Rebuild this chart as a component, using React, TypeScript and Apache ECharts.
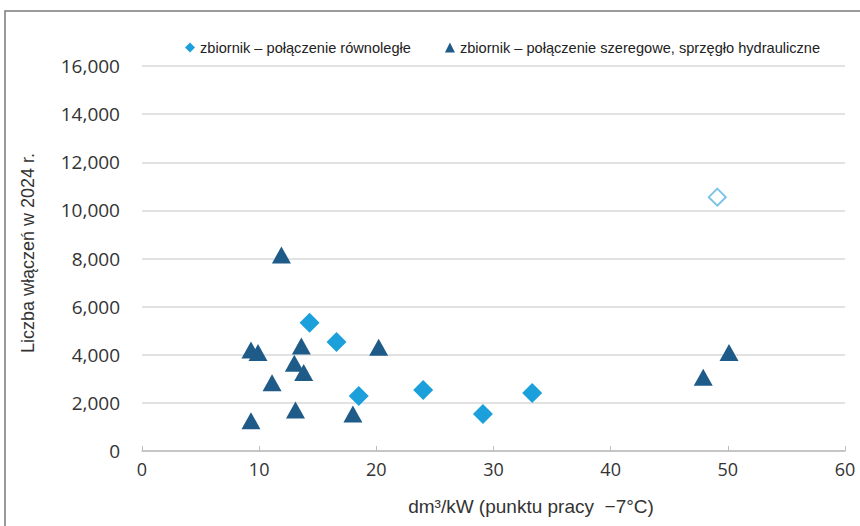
import React, { useEffect, useRef } from "react";
import * as echarts from "echarts";

const parallelX = [14.3, 16.6, 18.5, 24.0, 29.1, 33.3];
const parallelY = [5330, 4530, 2290, 2540, 1540, 2410];
const outlierX = [49.1];
const outlierY = [10550];
const seriesX = [11.9, 9.3, 9.9, 13.6, 13.0, 13.8, 11.1, 13.1, 9.3, 18.0, 20.2, 50.1, 47.9];
const seriesY = [8150, 4200, 4090, 4360, 3650, 3260, 2840, 1700, 1260, 1540, 4310, 4090, 3060];
const seriesNames = ["zbiornik – połączenie równoległe", "zbiornik – połączenie szeregowe, sprzęgło hydrauliczne"];
const xTitle = "dm³/kW (punktu pracy  −7°C)";
const yTitle = "Liczba włączeń w 2024 r.";

const LIGHT = "#1ba0db";
const DARK = "#1e5b89";
const TXTF = "'Liberation Sans', Arial, sans-serif";
const TICKF = "'Open Sans', 'Noto Sans', sans-serif";

export default function App() {
  const ref = useRef<HTMLDivElement>(null);
  useEffect(() => {
    const chart = echarts.init(ref.current!, null, { renderer: "svg" });
    const parData: any[] = parallelX.map((x, i) => [x, parallelY[i]]);
    outlierX.forEach((x, i) => {
      parData.push({
        value: [x, outlierY[i]],
        symbolSize: 17,
        itemStyle: { color: "#ffffff", borderColor: "#7cc3e8", borderWidth: 2, opacity: 1 },
      });
    });
    chart.setOption({
      animation: false,
      backgroundColor: "#ffffff",
      grid: { left: 142, right: 15, top: 66, bottom: 75, containLabel: false },
      legend: {
        top: 35,
        left: 180,
        itemGap: 34,
        itemWidth: 10,
        itemHeight: 10,
        textStyle: { fontFamily: TXTF, fontSize: 14.6, color: "#222" },
        data: [
          { name: seriesNames[0], icon: "diamond", itemStyle: { color: LIGHT, opacity: 1 } },
          { name: seriesNames[1], icon: "triangle", itemStyle: { color: DARK, opacity: 1 } },
        ],
      },
      xAxis: {
        type: "value",
        min: 0,
        max: 60,
        interval: 10,
        axisLine: { show: true, lineStyle: { color: "#bdbdbd", width: 1.5 } },
        axisTick: { show: true, inside: true, length: 5, lineStyle: { color: "#bdbdbd" } },
        axisLabel: { fontFamily: TICKF, fontSize: 18, color: "#333", margin: 9 },
        splitLine: { show: false },
      },
      yAxis: {
        type: "value",
        min: 0,
        max: 16000,
        interval: 2000,
        axisLine: { show: false },
        axisTick: { show: false },
        axisLabel: {
          fontFamily: TICKF,
          fontSize: 19,
          color: "#333",
          margin: 22,
          formatter: (v: number) => v.toLocaleString("en-US"),
        },
        splitLine: { lineStyle: { color: "#d9d9d9", width: 1.5 } },
      },
      graphic: [
        {
          type: "polyline",
          shape: { points: [[5, 530], [5, 11], [865, 11]] },
          style: { stroke: "#7a7a7a", lineWidth: 1.5, fill: "none" },
        },
        {
          type: "text",
          x: 531,
          y: 506,
          style: {
            text: xTitle,
            fontFamily: TXTF,
            fontSize: 19,
            fill: "#333",
            align: "center",
            verticalAlign: "middle",
          },
        },
        {
          type: "text",
          x: 28,
          y: 253,
          rotation: Math.PI / 2,
          style: {
            text: yTitle,
            fontFamily: TXTF,
            fontSize: 18,
            fill: "#333",
            align: "center",
            verticalAlign: "middle",
          },
        },
      ],
      series: [
        {
          name: seriesNames[0],
          type: "scatter",
          symbol: "diamond",
          symbolSize: 20,
          itemStyle: { color: LIGHT, opacity: 1 },
          data: parData,
          z: 3,
        },
        {
          name: seriesNames[1],
          type: "scatter",
          symbol: "triangle",
          symbolSize: [19, 17],
          itemStyle: { color: DARK, opacity: 1 },
          data: seriesX.map((x, i) => [x, seriesY[i]]),
          z: 2,
        },
      ],
    });
    return () => chart.dispose();
  }, []);
  return <div ref={ref} style={{ width: 860, height: 526, position: "absolute", left: 0, top: 0 }} />;
}
